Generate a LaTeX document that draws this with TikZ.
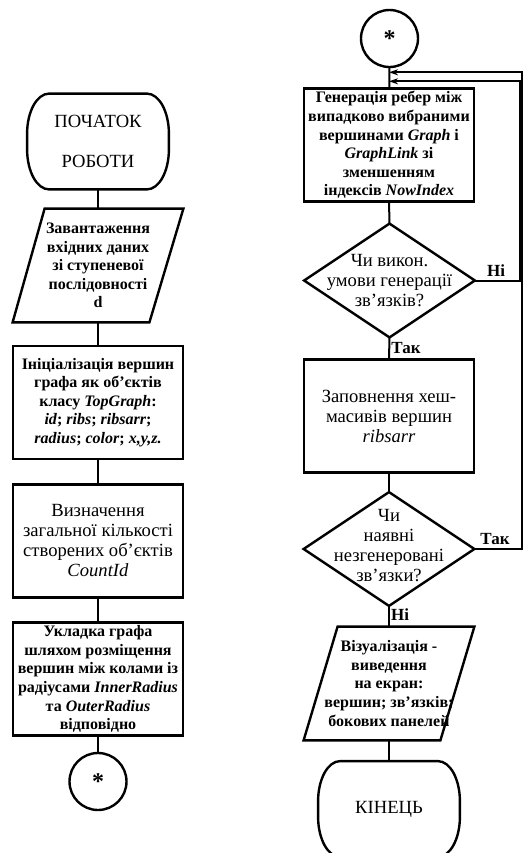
\documentclass[tikz,border=0pt]{standalone}
\usepackage{fontspec}
\setmainfont{Liberation Serif}
\usepackage{tikz}
\usetikzlibrary{calc,arrows.meta,positioning}

\begin{document}
\begin{tikzpicture}[x=0.5pt,y=0.5pt,
  txt/.style={font=\fontsize{9.3}{10}\selectfont},
  btxt/.style={font=\fontsize{8}{9.3}\selectfont\bfseries},
  boxline/.style={line width=1.2pt},
  box/.style={draw, boxline, minimum width=85pt, minimum height=56.5pt, inner sep=1pt, align=center},
  shapebox/.style={minimum width=85pt, minimum height=56.5pt, inner sep=1pt, align=center},
  term/.style={minimum width=70.5pt, minimum height=47.5pt, align=center, txt},
  conn/.style={circle, draw, boxline, minimum size=28.5pt, inner sep=0pt, font=\fontsize{12}{12}\selectfont\bfseries},
  flow/.style={line width=1pt},
  arr/.style={flow, -{Stealth[length=4.5pt,width=3pt]}},
  lbl/.style={inner sep=1pt, font=\fontsize{8.5}{9}\selectfont\bfseries}]
\useasboundingbox (0,0) rectangle (523,-853);

% left column
\node[term] (start) at (98,-141.5) {ПОЧАТОК\\[10pt]РОБОТИ};
\node[shapebox, btxt] (load) at (98,-265.5) {Завантаження\\вхідних даних\\зі ступеневої\\послідовності\\d};
\node[box, btxt] (init) at (98,-402.5) {Ініціалізація вершин\\графа як об’єктів\\класу \textit{TopGraph}:\\\textit{id}; \textit{ribs}; \textit{ribsarr};\\\textit{radius}; \textit{color}; \textit{x,y,z.}};
\node[box, txt] (count) at (98,-541) {Визначення\\загальної кількості\\створених об’єктів\\\textit{CountId}};
\node[box, btxt] (layout) at (98,-679) {Укладка графа\\шляхом розміщення\\вершин між колами із\\радіусами \textit{InnerRadius}\\та \textit{OuterRadius}\\відповідно};
\node[conn] (jump1) at (98,-781.5) {\raisebox{-0.8ex}{*}};

% right column
\node[conn] (jump2) at (389.5,-38.5) {\raisebox{-0.8ex}{*}};
\node[box, btxt] (gen) at (389,-145) {Генерація ребер між\\випадково вибраними\\вершинами \textit{Graph} і\\\textit{GraphLink} зі\\зменшенням\\індексів \textit{NowIndex}};
\node[shapebox, txt] (dec1) at (389.5,-280.5) {Чи викон.\\умови генерації\\зв’язків?};
\node[box, txt] (fill) at (389,-416) {Заповнення хеш-\\масивів вершин\\\textit{ribsarr}};
\node[shapebox, txt] (dec2) at (389,-546) {Чи\\наявні\\незгенеровані\\зв’язки?};
\node[shapebox, btxt] (out) at (389,-683.5) {Візуалізація -\\виведення\\на екран:\\вершин; зв’язків;\\бокових панелей};
\node[term] (stop) at (389,-809) {КІНЕЦЬ};

% outlines
\foreach \t in {start,stop}
  \draw[boxline] ($(\t.north west)+(11pt,0pt)$) -- ($(\t.north east)+(-11pt,0pt)$)
    arc[start angle=90,end angle=0,x radius=11pt,y radius=20pt]
    -- ($(\t.south east)+(0pt,20pt)$)
    arc[start angle=0,end angle=-90,x radius=11pt,y radius=20pt]
    -- ($(\t.south west)+(11pt,0pt)$)
    arc[start angle=-90,end angle=-180,x radius=11pt,y radius=20pt]
    -- ($(\t.north west)+(0pt,-20pt)$)
    arc[start angle=180,end angle=90,x radius=11pt,y radius=20pt] -- cycle;
\draw[boxline] ($(load.north west)+(32,0)$) -- (load.north east) -- ($(load.south east)+(-34,0)$) -- (load.south west) -- cycle;
\draw[boxline] ($(out.north west)+(34,0)$) -- (out.north east) -- ($(out.south east)+(-34,0)$) -- (out.south west) -- cycle;
\draw[boxline] (dec1.north) -- (dec1.east) -- (dec1.south) -- (dec1.west) -- cycle;
\draw[boxline] ($(dec2.north)+(0,-3)$) -- ($(dec2.east)+(0,-3)$) -- ($(dec2.south)+(0,-3)$) -- ($(dec2.west)+(0,-3)$) -- cycle;

% connectors
\draw[flow] (start) -- (load);
\draw[flow] (load) -- (init);
\draw[flow] (init) -- (count);
\draw[flow] (count) -- (layout);
\draw[flow] (layout) -- (jump1);
\draw[flow] (jump2) -- (gen);
\draw[flow] (gen) -- (dec1);
\draw[flow] (dec1) -- (fill);
\draw[flow] (fill) -- ($(dec2.north)+(0,-3)$);
\draw[flow] ($(dec2.south)+(0,-3)$) -- (out);
\draw[flow] (out) -- (stop);
\draw[arr] (dec1.east) -- ++(45,0) |- ($(gen.north)+(0,6)$);
\draw[arr] ($(dec2.east)+(0,-3)$) -- ++(48,0) |- ($(gen.north)+(0,15)$);

% labels
\node[lbl] (no1) at (496,-271) {Ні};
\node[lbl] (yes1) at (406,-348) {Так};
\node[lbl] (yes2) at (495,-539) {Так};
\node[lbl] (no2) at (400,-615) {Ні};
\end{tikzpicture}
\end{document}
